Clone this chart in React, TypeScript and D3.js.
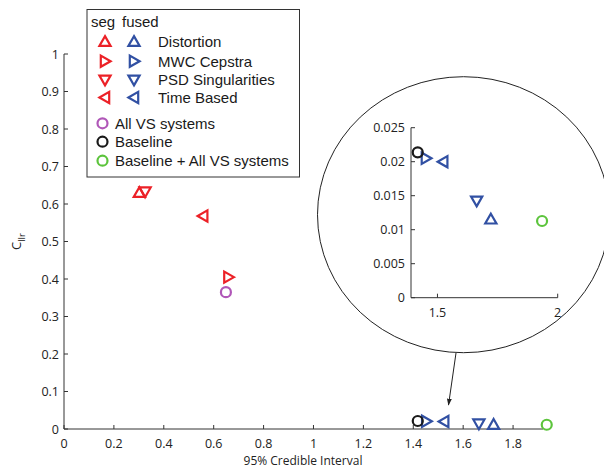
import React from 'react';
import * as d3 from 'd3';

// C_llr vs 95% credible interval
const featureNames = ['Distortion', 'MWC Cepstra', 'PSD Singularities', 'Time Based'];
const featureShapes = ['up', 'right', 'down', 'left'];
const segX = [0.302, 0.659, 0.325, 0.558];
const segY = [0.63, 0.405, 0.633, 0.568];
const fusedX = [1.722, 1.452, 1.663, 1.524];
const fusedY = [0.01153, 0.0205, 0.01426, 0.02];

const systemNames = ['All VS systems', 'Baseline', 'Baseline + All VS systems'];
const systemColors = ['#b057b8', '#1a1a1a', '#5cc43c'];
const systemX = [0.649, 1.418, 1.935];
const systemY = [0.365, 0.02138, 0.01128];

const mainXTicks = [0, 0.2, 0.4, 0.6, 0.8, 1, 1.2, 1.4, 1.6, 1.8];
const mainYTicks = [0, 0.1, 0.2, 0.3, 0.4, 0.5, 0.6, 0.7, 0.8, 0.9, 1];
const insetXTicks = [1.5, 2];
const insetYTicks = [0, 0.005, 0.01, 0.015, 0.02, 0.025];

const RED = '#ec2127';
const BLUE = '#3150a3';
const FONT = '"Open Sans", "DejaVu Sans", sans-serif';
const LFONT = '"Liberation Sans", Arial, sans-serif';

const tri = (dir: string, s = 5.6) => {
  const h = s * 0.75;
  if (dir === 'up') return `M0,${-s}L${s},${h}L${-s},${h}Z`;
  if (dir === 'down') return `M0,${s}L${s},${-h}L${-s},${-h}Z`;
  if (dir === 'right') return `M${s},0L${-h},${s}L${-h},${-s}Z`;
  return `M${-s},0L${h},${s}L${h},${-s}Z`;
};

const Marker = ({ x, y, shape, color }: { x: number; y: number; shape: string; color: string }) =>
  shape === 'circle' ? (
    <circle cx={x} cy={y} r={5} fill="none" stroke={color} strokeWidth={2.2} />
  ) : (
    <path d={tri(shape)} transform={`translate(${x},${y})`} fill="none" stroke={color} strokeWidth={2.2} strokeLinejoin="miter" />
  );

export default function App() {
  const x = d3.scaleLinear().domain([0, 1.92]).range([64, 543]);
  const y = d3.scaleLinear().domain([0, 1]).range([429, 54]);
  const ix = d3.scaleLinear().domain([1.39, 2]).range([411, 557.7]);
  const iy = d3.scaleLinear().domain([0, 0.025]).range([297.7, 127.7]);

  const axisColor = '#333';
  const textColor = '#222';

  const points = (sx: any, sy: any, withSeg: boolean) => (
    <g>
      {withSeg && featureShapes.map((s, i) => <Marker key={'s' + i} x={sx(segX[i])} y={sy(segY[i])} shape={s} color={RED} />)}
      {featureShapes.map((s, i) => <Marker key={'f' + i} x={sx(fusedX[i])} y={sy(fusedY[i])} shape={s} color={BLUE} />)}
      {systemNames.map((n, i) =>
        withSeg || i > 0 ? <Marker key={'c' + i} x={sx(systemX[i])} y={sy(systemY[i])} shape="circle" color={systemColors[i]} /> : null
      )}
    </g>
  );

  const legendRows = [41.7, 61.2, 79.8, 97.5];
  const circleRows = [123.3, 141.7, 160.7];

  return (
    <svg width={604} height={468} style={{ position: 'absolute', left: 0, top: 0, background: '#fff' }}>
      <defs>
        <marker id="arrowhead" viewBox="0 0 10 10" refX={9} refY={5} markerWidth={7} markerHeight={7} orient="auto">
          <path d="M0,1.5L10,5L0,8.5Z" fill="#222" />
        </marker>
      </defs>

      {/* main axes */}
      <g stroke={axisColor} strokeWidth={1}>
        <line x1={64} x2={64} y1={y(1)} y2={y(0)} />
        <line x1={64} x2={543} y1={y(0)} y2={y(0)} />
        {mainXTicks.map(t => <line key={t} x1={x(t)} x2={x(t)} y1={y(0)} y2={y(0) - 4} />)}
        {mainYTicks.map(t => <line key={t} x1={64} x2={68} y1={y(t)} y2={y(t)} />)}
      </g>
      <g fontFamily={FONT} fontSize={12.5} fill={textColor}>
        {mainXTicks.map(t => (
          <text key={t} x={x(t)} y={447.5} textAnchor="middle">{String(t)}</text>
        ))}
        {mainYTicks.map(t => (
          <text key={t} x={59} y={y(t) + 4.5} textAnchor="end">{String(t)}</text>
        ))}
        <text x={303} y={464.5} fontSize={12} textAnchor="middle">95% Credible Interval</text>
        <text transform="translate(21,250) rotate(-90)" fontSize={13}>
          C<tspan fontSize={9.5} dy={4}>llr</tspan>
        </text>
      </g>

      {points(x, y, true)}

      {/* legend */}
      <rect x={87} y={9.5} width={212.5} height={167.5} fill="#fff" stroke="#333" strokeWidth={1} />
      <g fontFamily={LFONT} fontSize={15} fill="#1a1a1a">
        <text x={91} y={27}>seg</text>
        <text x={122} y={27}>fused</text>
        {featureNames.map((n, i) => (
          <g key={n}>
            <Marker x={105} y={legendRows[i]} shape={featureShapes[i]} color={RED} />
            <Marker x={134} y={legendRows[i]} shape={featureShapes[i]} color={BLUE} />
            <text x={158} y={legendRows[i] + 5.5}>{n}</text>
          </g>
        ))}
        {systemNames.map((n, i) => (
          <g key={n}>
            <Marker x={102.5} y={circleRows[i]} shape="circle" color={systemColors[i]} />
            <text x={115} y={circleRows[i] + 5.5}>{n}</text>
          </g>
        ))}
      </g>

      {/* magnifier */}
      <line x1={456} y1={353} x2={448.5} y2={405} stroke="#222" strokeWidth={1} markerEnd="url(#arrowhead)" />
      <ellipse cx={463.5} cy={214.7} rx={146} ry={138} fill="#fff" stroke="#222" strokeWidth={1} />
      <g stroke={axisColor} strokeWidth={1}>
        <line x1={ix(1.39)} x2={ix(1.39)} y1={iy(0.025)} y2={iy(0)} />
        <line x1={ix(1.39)} x2={ix(2)} y1={iy(0)} y2={iy(0)} />
        {insetXTicks.map(t => <line key={t} x1={ix(t)} x2={ix(t)} y1={iy(0)} y2={iy(0) - 4} />)}
        {insetYTicks.map(t => <line key={t} x1={ix(1.39)} x2={ix(1.39) + 4} y1={iy(t)} y2={iy(t)} />)}
      </g>
      <g fontFamily={FONT} fontSize={12.5} fill={textColor}>
        {insetXTicks.map(t => (
          <text key={t} x={ix(t)} y={317} textAnchor="middle">{String(t)}</text>
        ))}
        {insetYTicks.map(t => (
          <text key={t} x={405} y={iy(t) + 4.5} textAnchor="end">{String(t)}</text>
        ))}
      </g>
      {points(ix, iy, false)}
    </svg>
  );
}
